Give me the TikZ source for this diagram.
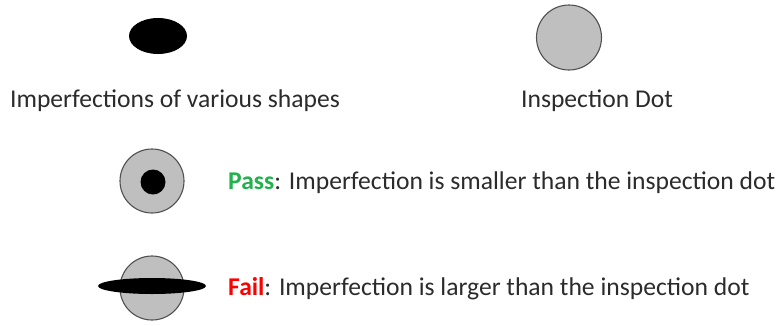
\documentclass[tikz,border=0pt]{standalone}
\usepackage{fontspec}
\setmainfont{Carlito}
\definecolor{dotgray}{HTML}{BFBFBF}
\definecolor{rimgray}{HTML}{505050}
\definecolor{txtgray}{HTML}{2B2B2B}
\definecolor{passgreen}{HTML}{22B14C}
\definecolor{failred}{HTML}{FF0000}
\begin{document}
\begin{tikzpicture}[x=1pt,y=-1pt,
  inspdot/.style={draw=rimgray,line width=1.1pt,fill=dotgray},
  imperf/.style={fill=black,draw=none},
  lbl/.style={font=\fontsize{25.6}{28}\selectfont,text=txtgray,inner sep=0pt},
  rowlbl/.style={lbl,anchor=west}]
\useasboundingbox (0,0) rectangle (778,325);
% top row
\fill[imperf] (158,36) ellipse [x radius=29, y radius=18];
\node[circle,inspdot,minimum size=65pt,inner sep=0pt] (dot) at (569,37.5) {};
\node[lbl] (t1) at (175,101) {Imperfections of various shapes};
\node[lbl] (t2) at (597,101) {Inspection Dot};
% pass row
\node[circle,inspdot,minimum size=64pt,inner sep=0pt] (pdot) at (152,181) {};
\fill[imperf] (153,182) circle [radius=12.5];
\node[rowlbl] (pass) at (228,183) {\textcolor{passgreen}{\textbf{Pass}}: Imperfection is smaller than the inspection dot};
% fail row
\node[circle,inspdot,minimum size=64pt,inner sep=0pt] (fdot) at (152,288) {};
\fill[imperf] (152,286) ellipse [x radius=54, y radius=8];
\node[rowlbl] (fail) at (228,289) {\textcolor{failred}{\textbf{Fail}}: Imperfection is larger than the inspection dot};
\end{tikzpicture}
\end{document}
